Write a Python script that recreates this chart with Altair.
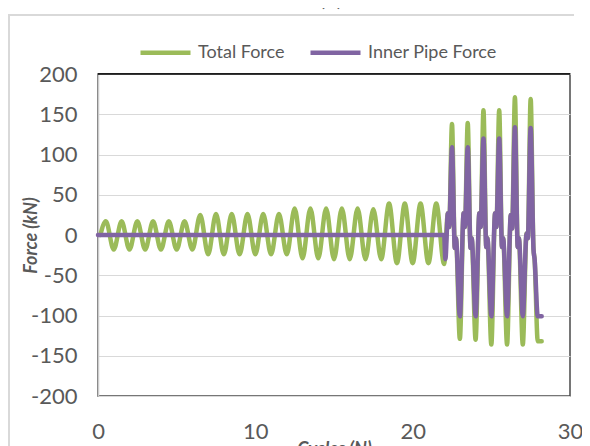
import altair as alt
import pandas as pd

# ---- data ----
# small loading cycles 0-22: peak at cycle k+0.5, trough at cycle k+1
small_cycle = list(range(22))
small_peaks = [17, 17, 17, 17, 17, 17, 25, 26, 26, 26, 26, 26,
               33, 33, 33, 33, 33, 32, 39, 39, 39, 39]
small_troughs = [-18, -18, -18, -18, -18, -18, -24, -24, -24, -24, -24, -24,
                 -29, -29, -30, -30, -30, -30, -35, -35, -35, -36]

# large cycles 22-28
big_cycle = [22, 23, 24, 25, 26, 27]
big_trough_x = [23, 24, 25, 26, 27, 27.95]
green_peaks = [138, 139, 155, 155, 171, 169]
green_troughs = [-129, -130, -136, -136, -136, -132]
purple_peaks = [109, 109, 120, 120, 134, 133]
purple_troughs = [-101, -101, -101, -101, -101, -101]
rise_bump = [27, 27, 27, 27, 25, 2]
rise_dip = [10, 10, 10, 10, 8, -4]
fall_dip = [-16, -16, -15, -15, -15, -18]
fall_bump = [-4, -4, -4, -4, -4, -30]
end_cycle = 28.2

series_names = ["Total Force", "Inner Pipe Force"]
series_colors = ["#9BBB59", "#8064A2"]


def big_part(peaks, troughs):
    xs, ys = [], []
    for i, n in enumerate(big_cycle):
        xs += [n + 0.24, n + 0.32, n + 0.5, n + 0.68, n + 0.75, big_trough_x[i]]
        ys += [rise_bump[i], rise_dip[i], peaks[i], fall_dip[i], fall_bump[i], troughs[i]]
    xs.append(end_cycle)
    ys.append(troughs[-1])
    return xs, ys


gx, gy = [0.15], [0]
for k in small_cycle:
    gx += [k + 0.5, k + 1]
    gy += [small_peaks[k], small_troughs[k]]
bx, by = big_part(green_peaks, green_troughs)
gx += bx
gy += by

px, py = [0, 22.0, 22.08], [0, 0, -30]
bx, by = big_part(purple_peaks, purple_troughs)
px += bx
py += by

df_g = pd.DataFrame({"cycle": gx, "force": gy, "series": series_names[0]})
df_p = pd.DataFrame({"cycle": px, "force": py, "series": series_names[1]})

FONT = "Lato"
GRAY = "#595959"

x_enc = alt.X("cycle:Q", scale=alt.Scale(domain=[0, 30], nice=False, zero=False),
              axis=alt.Axis(values=[0, 10, 20, 30], title="Cycles (N)", grid=False,
                            domain=False, ticks=False, tickSize=0, labelPadding=25,
                            labelFlush=False, labelExpr="'' + datum.value",
                            labelFontSize=22, labelFont=FONT, labelColor=GRAY,
                            titleFont=FONT, titleFontSize=18, titleFontStyle="italic",
                            titleFontWeight="bold", titleColor=GRAY,
                            titleX=236, titleY=44, titleBaseline="top",
                            titleAlign="center"))
y_enc = alt.Y("force:Q", scale=alt.Scale(domain=[-200, 200], nice=False),
              axis=alt.Axis(values=[-200, -150, -100, -50, 0, 50, 100, 150, 200],
                            title="Force (kN)", grid=True, gridColor="#d9d9d9",
                            gridWidth=1, domain=True, domainColor="#cccccc",
                            domainWidth=1.5, ticks=False, tickSize=0, labelPadding=21,
                            labelFlush=False, labelExpr="'' + datum.value",
                            labelFontSize=22, labelFont=FONT, labelColor=GRAY,
                            titleFont=FONT, titleFontSize=18, titleFontStyle="italic",
                            titleFontWeight="bold", titleColor=GRAY,
                            titleAngle=270, titleX=-67, titleY=161,
                            titleAlign="center", titleBaseline="middle"))
color_enc = alt.Color("series:N",
                      scale=alt.Scale(domain=series_names, range=series_colors),
                      legend=alt.Legend(title=None, orient="none", legendX=40, legendY=-49,
                                        direction="horizontal", symbolType="stroke",
                                        symbolSize=2500, symbolStrokeWidth=4.5,
                                        labelFont=FONT, labelFontSize=18, labelColor=GRAY,
                                        labelOffset=5, columnPadding=16, padding=0))

green = alt.Chart(df_g).mark_line(strokeWidth=4.5, interpolate="monotone",
                                  strokeCap="round", strokeJoin="round").encode(
    x=x_enc, y=y_enc, color=color_enc)
purple = alt.Chart(df_p).mark_line(strokeWidth=4.5, interpolate="monotone",
                                   strokeCap="round", strokeJoin="round").encode(
    x=x_enc, y=y_enc, color=color_enc)

deco = pd.DataFrame({"t": ["(b)"]})
border_left = alt.Chart(deco).mark_rule(stroke="#d9d9d9", strokeWidth=2).encode(
    x=alt.value(-89), y=alt.value(-59), y2=alt.value(600))
border_top = alt.Chart(deco).mark_rect(fill="#d9d9d9", strokeWidth=0).encode(
    x=alt.value(-90), x2=alt.value(476), y=alt.value(-60), y2=alt.value(-58))
frame_top = alt.Chart(deco).mark_rule(stroke="#000000", strokeWidth=1.5).encode(
    x=alt.value(0), x2=alt.value(472), y=alt.value(0))
label_b = alt.Chart(deco).mark_text(font=FONT, fontSize=22, color=GRAY,
                                    align="center", baseline="alphabetic").encode(
    text="t:N", x=alt.value(233), y=alt.value(-68))

chart = alt.layer(border_left, border_top, label_b, green, purple, frame_top).properties(
    width=472, height=322,
    padding={"left": 90, "top": 66, "right": 12, "bottom": 52},
    autosize=alt.AutoSizeParams(type="none"),
    background="white",
).configure_view(stroke="#4a4a4a", strokeWidth=1.5)

chart.save("out.html", embed_options={"renderer": "svg", "actions": False})
